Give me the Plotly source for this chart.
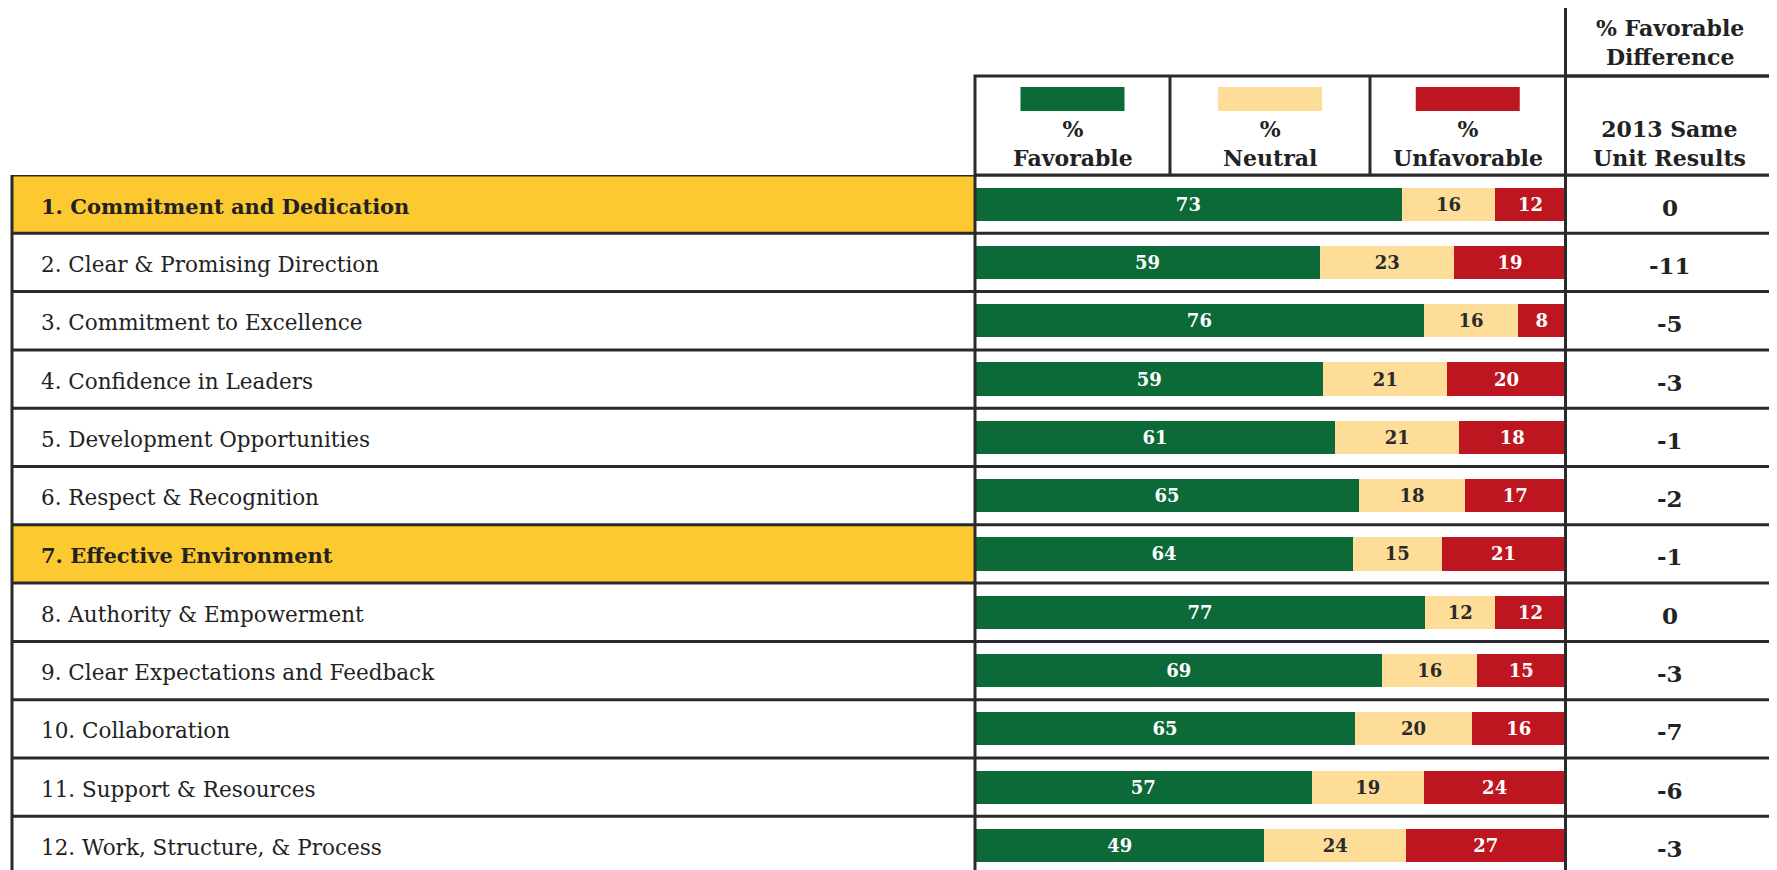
import plotly.graph_objects as go

# ---------------- data ----------------
categories = [
    "1. Commitment and Dedication",
    "2. Clear & Promising Direction",
    "3. Commitment to Excellence",
    "4. Confidence in Leaders",
    "5. Development Opportunities",
    "6. Respect & Recognition",
    "7. Effective Environment",
    "8. Authority & Empowerment",
    "9. Clear Expectations and Feedback",
    "10. Collaboration",
    "11. Support & Resources",
    "12. Work, Structure, & Process",
]
favorable = [73, 59, 76, 59, 61, 65, 64, 77, 69, 65, 57, 49]
neutral = [16, 23, 16, 21, 21, 18, 15, 12, 16, 20, 19, 24]
unfavorable = [12, 19, 8, 20, 18, 17, 21, 12, 15, 16, 24, 27]
diff_2013 = [0, -11, -5, -3, -1, -2, -1, 0, -3, -7, -6, -3]
highlighted = ["1. Commitment and Dedication", "7. Effective Environment"]

series_names = ["%<br>Favorable", "%<br>Neutral", "%<br>Unfavorable"]
diff_header_top = "% Favorable<br>Difference"
diff_header = "2013 Same<br>Unit Results"

# ---------------- style ----------------
W, H = 1777, 870
OFF = 8  # default page body margin
GREEN = "#0b6a37"
NEUTRAL = "#fddd98"
RED = "#be1620"
GOLD = "#fcc930"
LINE = "#2a2a2a"
FONT = "DejaVu Serif"

def px(x):
    return (x - OFF) / W

def py(y):
    return 1 - (y - OFF) / H

X_LABEL_L, X_BAR_L, X_BAR_R, X_RIGHT = 12, 975, 1565.5, 1774
Y_TOP_BOX, Y_HDR, Y_ROWS = 6, 76, 175
ROW_H = 58.3
n = len(categories)
y_bottom_val = -0.5 + (H - (Y_ROWS - OFF)) / ROW_H

fig = go.Figure()
colors = [GREEN, NEUTRAL, RED]
txtcol = ["white", "#2a2a2a", "white"]
for name, vals, c, tc in zip(series_names, [favorable, neutral, unfavorable], colors, txtcol):
    fig.add_trace(go.Bar(
        y=categories, x=vals, orientation="h", name=name,
        marker=dict(color=c, line=dict(width=0)),
        width=0.57,
        text=vals, texttemplate="%{text}", textposition="inside",
        insidetextanchor="middle", textangle=0, constraintext="none",
        textfont=dict(family=FONT, size=18, color=tc, weight="bold"),
        hoverinfo="skip", showlegend=False,
    ))

shapes = []
annotations = []

# highlight backgrounds in label column
for cat in categories:
    if cat in highlighted:
        i = categories.index(cat)
        shapes.append(dict(type="rect", xref="paper", yref="y",
                           x0=px(X_LABEL_L), x1=px(X_BAR_L), y0=i - 0.5, y1=i + 0.5,
                           fillcolor=GOLD, line=dict(width=0), layer="below"))

# row separators
for i in range(n + 1):
    shapes.append(dict(type="line", xref="paper", yref="y",
                       x0=px(X_LABEL_L), x1=px(X_RIGHT), y0=i - 0.5, y1=i - 0.5,
                       line=dict(color=LINE, width=3)))

# vertical lines for the rows region
for xv in [X_LABEL_L, X_BAR_L, X_BAR_R, X_RIGHT]:
    shapes.append(dict(type="line", xref="paper", yref="paper",
                       x0=px(xv), x1=px(xv), y0=0, y1=py(Y_ROWS),
                       line=dict(color=LINE, width=3)))

# header boxes
shapes.append(dict(type="rect", xref="paper", yref="paper",
                   x0=px(X_BAR_R), x1=px(X_RIGHT), y0=py(Y_HDR), y1=py(Y_TOP_BOX),
                   line=dict(color=LINE, width=3)))
shapes.append(dict(type="rect", xref="paper", yref="paper",
                   x0=px(X_BAR_L), x1=px(X_RIGHT), y0=py(Y_ROWS), y1=py(Y_HDR),
                   line=dict(color=LINE, width=3)))
cell_edges = [X_BAR_L, 1170, 1370, X_BAR_R]
for xv in cell_edges[1:]:
    shapes.append(dict(type="line", xref="paper", yref="paper",
                       x0=px(xv), x1=px(xv), y0=py(Y_ROWS), y1=py(Y_HDR),
                       line=dict(color=LINE, width=3)))

# legend swatches + header labels
for k, (name, c) in enumerate(zip(series_names, colors)):
    cx = (cell_edges[k] + cell_edges[k + 1]) / 2
    shapes.append(dict(type="rect", xref="paper", yref="paper",
                       x0=px(cx - 52), x1=px(cx + 52), y0=py(111), y1=py(87),
                       fillcolor=c, line=dict(width=0)))
    annotations.append(dict(xref="paper", yref="paper", x=px(cx), y=py(144),
                            text=name, showarrow=False, xanchor="center", yanchor="middle",
                            font=dict(family=FONT, size=22, color="#222", weight="bold")))

rx = (X_BAR_R + X_RIGHT) / 2
annotations.append(dict(xref="paper", yref="paper", x=px(rx), y=py(42),
                        text=diff_header_top, showarrow=False, xanchor="center", yanchor="middle",
                        font=dict(family=FONT, size=22, color="#222", weight="bold")))
annotations.append(dict(xref="paper", yref="paper", x=px(rx), y=py(144),
                        text=diff_header, showarrow=False, xanchor="center", yanchor="middle",
                        font=dict(family=FONT, size=22, color="#222", weight="bold")))

# row labels and right column values
for cat, d in zip(categories, diff_2013):
    bold = cat in highlighted
    annotations.append(dict(xref="paper", yref="y", x=px(39), y=cat,
                             text=cat, showarrow=False, xanchor="left", yanchor="middle",
                             yshift=-2,
                             font=dict(family=FONT, size=21.5 if not bold else 21,
                                       color="#222", weight="bold" if bold else "normal")))
    annotations.append(dict(xref="paper", yref="y", x=px(rx), y=cat,
                            text=str(d), showarrow=False, xanchor="center", yanchor="middle",
                            yshift=-3,
                            font=dict(family=FONT, size=23, color="#222", weight="bold")))

fig.update_layout(
    width=W, height=H,
    margin=dict(l=0, r=0, t=0, b=0),
    paper_bgcolor="white", plot_bgcolor="rgba(0,0,0,0)",
    barmode="stack", barnorm="percent",
    xaxis=dict(domain=[px(X_BAR_L), px(X_BAR_R)], range=[0, 100],
               visible=False, fixedrange=True),
    yaxis=dict(domain=[0, py(Y_ROWS)], type="category",
               categoryorder="array", categoryarray=categories,
               range=[y_bottom_val, -0.5], visible=False, fixedrange=True),
    shapes=shapes, annotations=annotations,
    showlegend=False,
)

fig.write_html("out.html")
